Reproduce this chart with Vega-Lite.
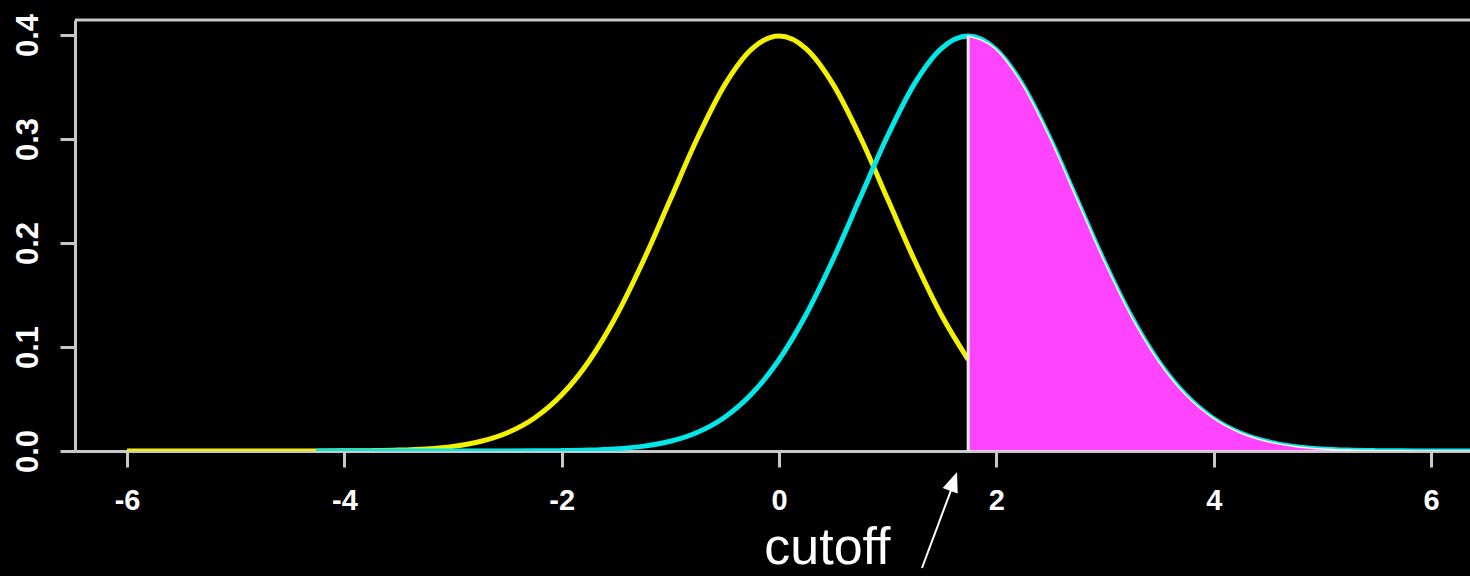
{
  "$schema": "https://vega.github.io/schema/vega-lite/v6.json",
  "width": 1395,
  "height": 431,
  "autosize": {"type": "none"},
  "padding": {"left": 75, "top": 20, "right": 0, "bottom": 125},
  "background": "black",
  "config": {"view": {"stroke": null}},
  "datasets": {
    "yel": [
      {"x": -6, "d": 0}, {"x": -5.75, "d": 0}, {"x": -5.5, "d": 0.0000001}, {"x": -5.25, "d": 0.0000005},
      {"x": -5, "d": 0.0000015}, {"x": -4.75, "d": 0.000005}, {"x": -4.5, "d": 0.000016}, {"x": -4.25, "d": 0.0000477},
      {"x": -4, "d": 0.000134}, {"x": -3.75, "d": 0.000353}, {"x": -3.5, "d": 0.000873}, {"x": -3.25, "d": 0.002029},
      {"x": -3, "d": 0.004432}, {"x": -2.75, "d": 0.009094}, {"x": -2.5, "d": 0.017528}, {"x": -2.25, "d": 0.03174},
      {"x": -2, "d": 0.053991}, {"x": -1.75, "d": 0.086277}, {"x": -1.5, "d": 0.129518}, {"x": -1.25, "d": 0.182649},
      {"x": -1, "d": 0.241971}, {"x": -0.75, "d": 0.301137}, {"x": -0.5, "d": 0.352065}, {"x": -0.25, "d": 0.386668},
      {"x": 0, "d": 0.398942}, {"x": 0.25, "d": 0.386668}, {"x": 0.5, "d": 0.352065}, {"x": 0.75, "d": 0.301137},
      {"x": 1, "d": 0.241971}, {"x": 1.25, "d": 0.182649}, {"x": 1.5, "d": 0.129518}, {"x": 1.74, "d": 0.087915}
    ],
    "cyn": [
      {"x": -4.26, "d": 0}, {"x": -4.01, "d": 0}, {"x": -3.76, "d": 0.0000001}, {"x": -3.51, "d": 0.0000005},
      {"x": -3.26, "d": 0.0000015}, {"x": -3.01, "d": 0.000005}, {"x": -2.76, "d": 0.000016}, {"x": -2.51, "d": 0.0000477},
      {"x": -2.26, "d": 0.000134}, {"x": -2.01, "d": 0.000353}, {"x": -1.76, "d": 0.000873}, {"x": -1.51, "d": 0.002029},
      {"x": -1.26, "d": 0.004432}, {"x": -1.01, "d": 0.009094}, {"x": -0.76, "d": 0.017528}, {"x": -0.51, "d": 0.03174},
      {"x": -0.26, "d": 0.053991}, {"x": -0.01, "d": 0.086277}, {"x": 0.24, "d": 0.129518}, {"x": 0.49, "d": 0.182649},
      {"x": 0.74, "d": 0.241971}, {"x": 0.99, "d": 0.301137}, {"x": 1.24, "d": 0.352065}, {"x": 1.49, "d": 0.386668},
      {"x": 1.74, "d": 0.398942}, {"x": 1.99, "d": 0.386668}, {"x": 2.24, "d": 0.352065}, {"x": 2.49, "d": 0.301137},
      {"x": 2.74, "d": 0.241971}, {"x": 2.99, "d": 0.182649}, {"x": 3.24, "d": 0.129518}, {"x": 3.49, "d": 0.086277},
      {"x": 3.74, "d": 0.053991}, {"x": 3.99, "d": 0.03174}, {"x": 4.24, "d": 0.017528}, {"x": 4.49, "d": 0.009094},
      {"x": 4.74, "d": 0.004432}, {"x": 4.99, "d": 0.002029}, {"x": 5.24, "d": 0.000873}, {"x": 5.49, "d": 0.000353},
      {"x": 5.74, "d": 0.000134}, {"x": 5.99, "d": 0.0000477}, {"x": 6.24, "d": 0.000016}, {"x": 6.49, "d": 0.000005},
      {"x": 6.74, "d": 0.0000015}
    ],
    "note": [
      {"label": "cutoff", "tx": 0.445, "ty": -0.1091, "ax": 1.315, "ay": -0.1125, "bx": 1.61, "by": -0.03, "hx": 1.606, "hy": -0.0292}
    ]
  },
  "layer": [
    {
      "data": {"name": "yel"},
      "mark": {"type": "line", "color": "#f2f200", "strokeWidth": 5, "interpolate": "monotone", "clip": true},
      "encoding": {
        "x": {"field": "x", "type": "quantitative",
          "scale": {"domain": [-6.479, 6.358], "nice": false, "zero": false},
          "axis": {"values": [-6, -4, -2, 0, 2, 4, 6], "labelExpr": "'' + datum.value", "title": null, "grid": false,
            "domainColor": "#c8c8c8", "domainWidth": 3, "tickColor": "#c8c8c8", "tickWidth": 3, "tickSize": 16,
            "labelColor": "white", "labelFont": "Liberation Sans", "labelFontWeight": "bold", "labelFontSize": 29,
            "labelPadding": 19, "labelFlush": false, "labelOverlap": false}},
        "y": {"field": "d", "type": "quantitative",
          "scale": {"domain": [0, 0.4144], "nice": false, "zero": false},
          "axis": {"values": [0, 0.1, 0.2, 0.3, 0.4], "format": ".1f", "title": null, "grid": false,
            "domainColor": "#c8c8c8", "domainWidth": 3, "tickColor": "#c8c8c8", "tickWidth": 3, "tickSize": 15,
            "labelColor": "white", "labelFont": "Liberation Sans", "labelFontWeight": "bold", "labelFontSize": 31,
            "labelAngle": 270, "labelAlign": "center", "labelBaseline": "bottom", "labelPadding": 16,
            "labelFlush": false, "labelOverlap": false}}
      }
    },
    {
      "data": {"name": "cyn"},
      "mark": {"type": "line", "color": "#00e8e8", "strokeWidth": 5, "interpolate": "monotone", "clip": true},
      "encoding": {
        "x": {"field": "x", "type": "quantitative"},
        "y": {"field": "d", "type": "quantitative"}
      }
    },
    {
      "data": {"name": "cyn"},
      "transform": [{"filter": "datum.x >= 1.74"}],
      "mark": {"type": "area", "color": "#ff44ff", "stroke": "#fff0ff", "strokeWidth": 1.5, "interpolate": "monotone", "clip": true},
      "encoding": {
        "x": {"field": "x", "type": "quantitative"},
        "y": {"field": "d", "type": "quantitative"},
        "y2": {"datum": 0}
      }
    },
    {
      "data": {"name": "note"},
      "mark": {"type": "rule", "color": "#e6e6e6", "strokeWidth": 3},
      "encoding": {
        "x": {"datum": 1.74},
        "y": {"datum": 0},
        "y2": {"datum": 0.3989}
      }
    },
    {
      "data": {"name": "note"},
      "mark": {"type": "rule", "color": "#c8c8c8", "strokeWidth": 3},
      "encoding": {"y": {"datum": 0.4144}}
    },
    {
      "data": {"name": "note"},
      "mark": {"type": "rule", "color": "white", "strokeWidth": 2},
      "encoding": {
        "x": {"field": "ax", "type": "quantitative"},
        "y": {"field": "ay", "type": "quantitative"},
        "x2": {"field": "bx"},
        "y2": {"field": "by"}
      }
    },
    {
      "data": {"name": "note"},
      "mark": {"type": "point", "shape": "M0,-1L0.8,1L-0.8,1Z", "filled": true, "color": "white", "opacity": 1, "size": 400, "angle": 20},
      "encoding": {
        "x": {"field": "hx", "type": "quantitative"},
        "y": {"field": "hy", "type": "quantitative"}
      }
    },
    {
      "data": {"name": "note"},
      "mark": {"type": "text", "color": "white", "font": "Liberation Sans", "fontSize": 52, "align": "center", "baseline": "alphabetic"},
      "encoding": {
        "text": {"field": "label"},
        "x": {"field": "tx", "type": "quantitative"},
        "y": {"field": "ty", "type": "quantitative"}
      }
    }
  ]
}
